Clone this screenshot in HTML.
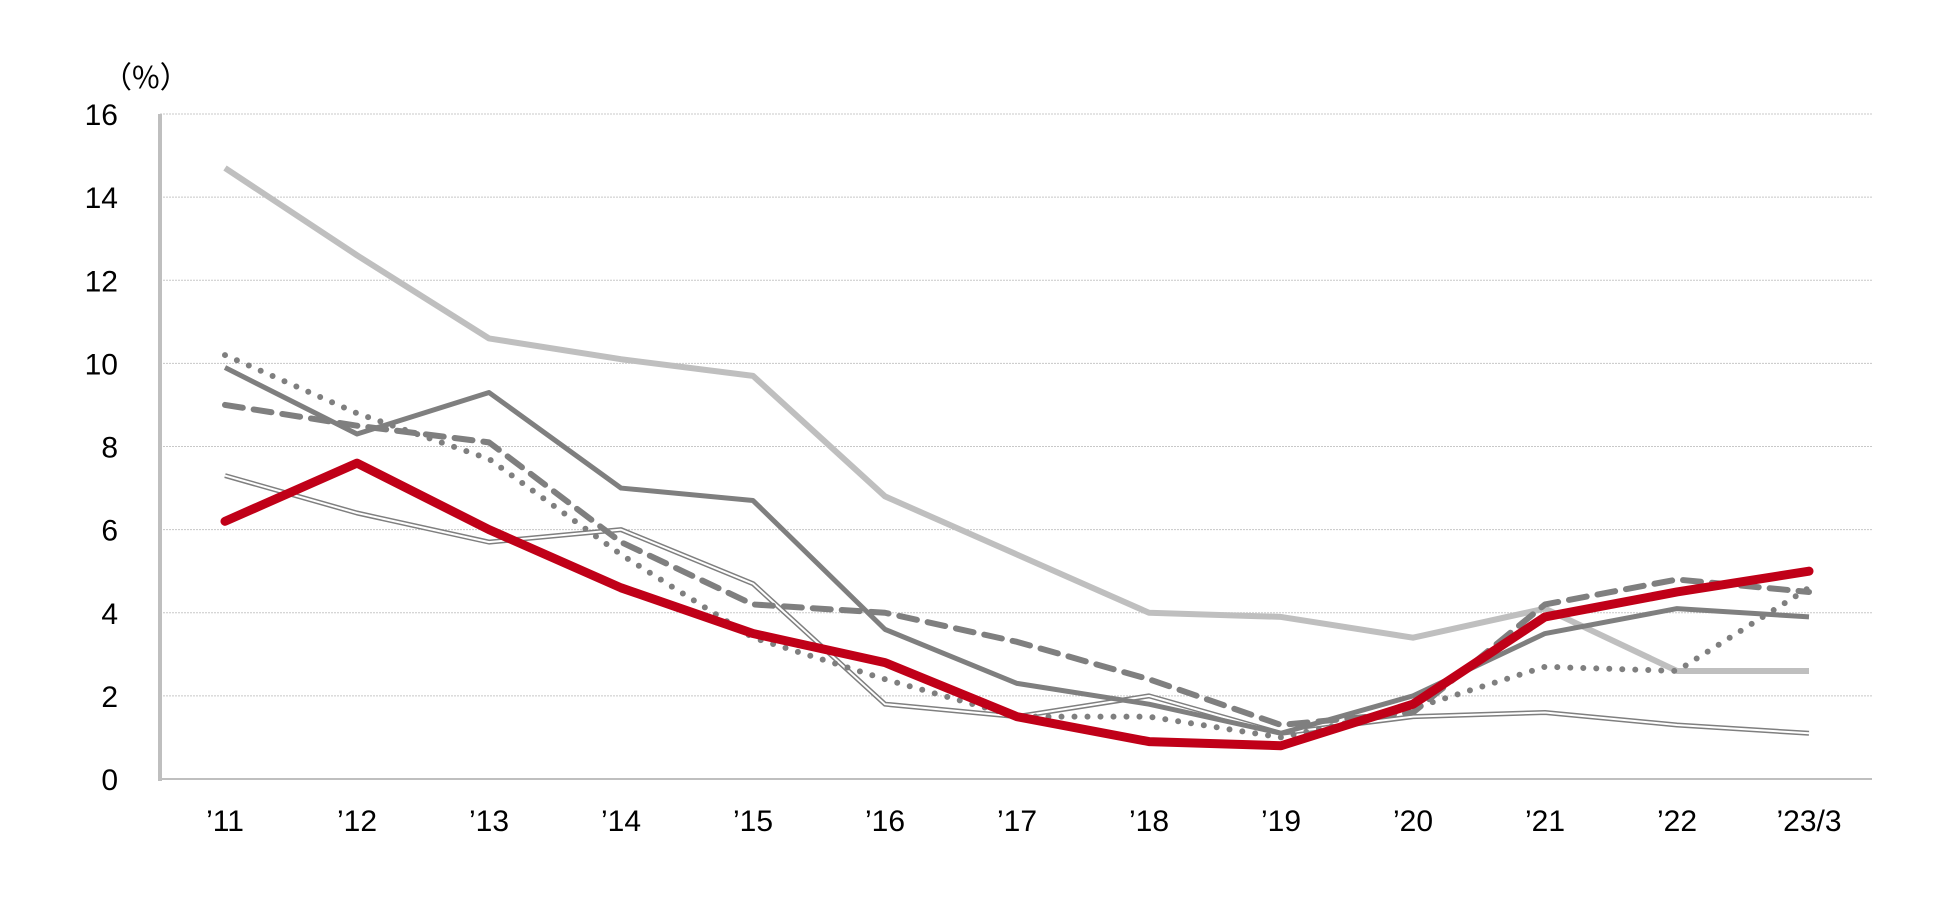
<!DOCTYPE html>
<html><head><meta charset="utf-8"><style>
body{margin:0;background:#fff;}
svg{display:block;font-family:"Liberation Sans","Noto Sans CJK JP",sans-serif;}
</style></head><body>
<svg id="chart" width="1950" height="904" viewBox="0 0 1950 904">
<text x="102" y="88" font-size="30" fill="#000" font-family="Noto Sans CJK JP, sans-serif">（%）</text>
<g id="grid"></g><g id="series"></g><g id="labels"></g>
</svg>
<script>
const categories=["’11","’12","’13","’14","’15","’16","’17","’18","’19","’20","’21","’22","’23/3"];
const yTicks=[0,2,4,6,8,10,12,14,16];
const lightGray=[14.7,12.6,10.6,10.1,9.7,6.8,5.4,4.0,3.9,3.4,4.1,2.6,2.6];
const doubleLine=[7.3,6.4,5.7,6.0,4.7,1.8,1.5,2.0,1.1,1.5,1.6,1.3,1.1];
const dotted=[10.2,8.8,7.7,5.4,3.4,2.4,1.5,1.5,1.0,1.7,2.7,2.6,4.6];
const dashed=[9.0,8.5,8.1,5.7,4.2,4.0,3.3,2.4,1.3,1.6,4.2,4.8,4.5];
const darkSolid=[9.9,8.3,9.3,7.0,6.7,3.6,2.3,1.8,1.1,2.0,3.5,4.1,3.9];
const red=[6.2,7.6,6.0,4.6,3.5,2.8,1.5,0.9,0.8,1.8,3.9,4.5,5.0];
const NS="http://www.w3.org/2000/svg";
const X0=160,X1=1872,Y0=779,Y16=114;
function xs(i){return 225+i*132;}
function ys(v){return Y0-(v/16)*(Y0-Y16);}
function mk(t,a,p){const e=document.createElementNS(NS,t);for(const k in a)e.setAttribute(k,a[k]);p.appendChild(e);return e;}
const grid=document.getElementById('grid'),ser=document.getElementById('series'),lab=document.getElementById('labels');
yTicks.forEach(v=>{
 if(v>0){const l=mk('line',{x1:X0,x2:X1,y1:ys(v),y2:ys(v),stroke:'#c8c8c8','stroke-width':1,'stroke-dasharray':'2 1'},grid);
 
 }
 const t=mk('text',{x:118,y:ys(v)+11,'font-size':30,'text-anchor':'end',fill:'#000'},lab);t.textContent=v;
 
 
});
const ax=mk('line',{x1:X0,x2:X0,y1:Y16,y2:Y0+2,stroke:'#bfbfbf','stroke-width':4},grid);


const bx=mk('line',{x1:X0,x2:X1,y1:Y0,y2:Y0,stroke:'#bfbfbf','stroke-width':2},grid);


categories.forEach((c,i)=>{const t=mk('text',{x:xs(i),y:831,'font-size':30,'text-anchor':'middle',fill:'#000'},lab);t.textContent=c;
 
 });
function pts(a){return a.map((v,i)=>xs(i)+','+ys(v)).join(' ');}
function line(a,name,attrs){const p=mk('polyline',Object.assign({points:pts(a),fill:'none','stroke-linejoin':'round'},attrs),ser);
 
 return p;}
line(lightGray,'series-light-gray',{stroke:'#bfbfbf','stroke-width':6});
line(doubleLine,'series-double-line',{stroke:'#7f7f7f','stroke-width':5});
line(doubleLine,'series-double-line-inner',{stroke:'#fff','stroke-width':2});
line(dotted,'series-dotted',{stroke:'#7f7f7f','stroke-width':6,'stroke-dasharray':'0 13','stroke-linecap':'round'});
line(dashed,'series-dashed',{stroke:'#7f7f7f','stroke-width':6,'stroke-dasharray':'18 11','stroke-linecap':'round'});
line(darkSolid,'series-dark-solid',{stroke:'#7f7f7f','stroke-width':5});
line(red,'series-red',{stroke:'#c00018','stroke-width':9,'stroke-linecap':'round'});
</script>
</body></html>
